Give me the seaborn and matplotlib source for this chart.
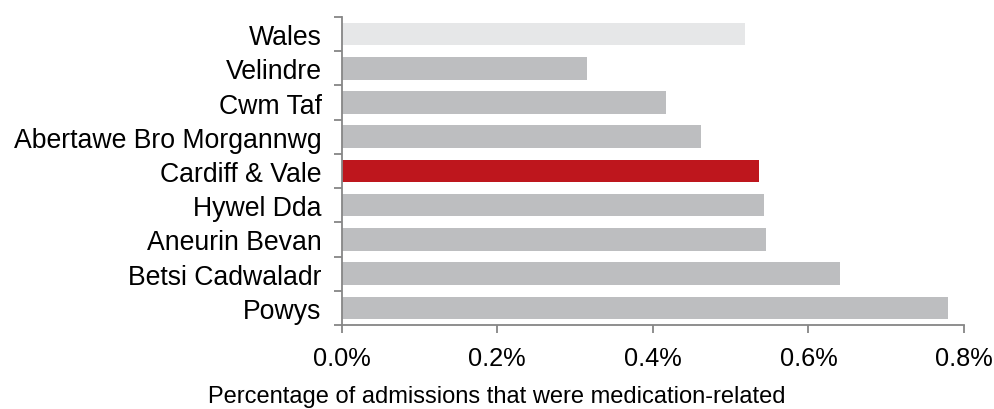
import pandas as pd
import matplotlib
matplotlib.use("Agg")
import matplotlib.pyplot as plt
import seaborn as sns
from matplotlib.ticker import FuncFormatter, FixedLocator

# Medication-related admissions by health board
boards = ["Wales", "Velindre", "Cwm Taf", "Abertawe Bro Morgannwg", "Cardiff & Vale",
          "Hywel Dda", "Aneurin Bevan", "Betsi Cadwaladr", "Powys"]
pct_admissions = [0.518, 0.315, 0.417, 0.462, 0.537, 0.543, 0.546, 0.641, 0.780]
highlight = "Cardiff & Vale"
x_ticks = [0.0, 0.2, 0.4, 0.6, 0.8]
x_label = "Percentage of admissions that were medication-related"

sns.set_theme(style="white")
plt.rcParams["font.family"] = ["Liberation Sans", "DejaVu Sans"]

df = pd.DataFrame({"board": boards, "pct": pct_admissions})
colors = []
for b in boards:
    if b == "Wales":
        colors.append("#e6e7e8")
    elif b == highlight:
        colors.append("#be161d")
    else:
        colors.append("#bdbec0")

fig = plt.figure(figsize=(9.95, 4.1), dpi=100)
ax = fig.add_axes([0.3434, 0.205, 0.9688 - 0.3434, 0.956 - 0.205])

sns.barplot(data=df, y="board", x="pct", hue="board", palette=colors, legend=False,
            orient="h", width=0.66, saturation=1, ax=ax, edgecolor="none")

ax.set_xlim(0, 0.8)
ax.set_ylim(len(boards) - 0.5, -0.5)
ax.xaxis.set_major_locator(FixedLocator(x_ticks))
ax.xaxis.set_major_formatter(FuncFormatter(lambda v, p: f"{v:.1f}%"))

# y ticks at category boundaries (Excel style)
ax.yaxis.set_minor_locator(FixedLocator([i - 0.5 for i in range(len(boards) + 1)]))
ax.tick_params(axis="y", which="major", length=0, pad=14.4, labelsize=19.2, labelcolor="black")
ax.tick_params(axis="y", which="minor", length=6, width=1.3, color="#868686", left=True)
ax.tick_params(axis="x", which="major", length=6, width=1.3, color="#868686",
               bottom=True, pad=9, labelsize=18.3, labelcolor="black")

for side in ["top", "right"]:
    ax.spines[side].set_visible(False)
for side in ["left", "bottom"]:
    ax.spines[side].set_color("#868686")
    ax.spines[side].set_linewidth(1.3)

ax.set_xlabel("")
ax.set_ylabel("")
ax.grid(False)

fig.text(497 / 995, 1 - 403 / 410, x_label, ha="center", va="baseline",
         fontsize=17, color="black")

fig.savefig("out.png", dpi=100)
